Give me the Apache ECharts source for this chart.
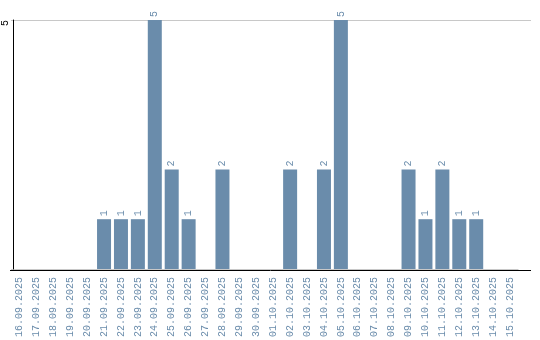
<!DOCTYPE html>
<html><head><meta charset="utf-8">
<script src="https://cdn.jsdelivr.net/npm/echarts@6/dist/echarts.min.js"></script>
<style>html,body{margin:0;padding:0;background:#fff}#c{width:540px;height:340px}</style>
</head><body><div id="c"></div>
<script>
const categories = ["16.09.2025","17.09.2025","18.09.2025","19.09.2025","20.09.2025","21.09.2025","22.09.2025","23.09.2025","24.09.2025","25.09.2025","26.09.2025","27.09.2025","28.09.2025","29.09.2025","30.09.2025","01.10.2025","02.10.2025","03.10.2025","04.10.2025","05.10.2025","06.10.2025","07.10.2025","08.10.2025","09.10.2025","10.10.2025","11.10.2025","12.10.2025","13.10.2025","14.10.2025","15.10.2025"];
const values = [0,0,0,0,0,1,1,1,5,2,1,0,2,0,0,0,2,0,2,5,0,0,0,2,1,2,1,1,0,0];
const yMax = 5;
const barColor = '#6a8cab';
const chart = echarts.init(document.getElementById('c'));
chart.setOption({
  animation:false,
  grid:{left:8.5,top:20,width:510,bottom:70,containLabel:false},
  graphic:[
    {type:'line',shape:{x1:518,y1:20.5,x2:531,y2:20.5},style:{stroke:'#c8c8c8',lineWidth:1}},
    {type:'line',shape:{x1:10,y1:270.5,x2:531,y2:270.5},style:{stroke:'#000',lineWidth:1}}
  ],
  xAxis:{type:'category',data:categories,
    axisLine:{show:false},
    axisTick:{show:false},
    axisLabel:{rotate:90,interval:0,color:barColor,fontFamily:'Liberation Mono',fontSize:10,margin:8}},
  yAxis:{type:'value',min:0,max:yMax,interval:5,offset:-2,
    axisLine:{show:true,lineStyle:{color:'#000',width:1}},
    axisTick:{show:false},
    splitLine:{lineStyle:{color:'#c8c8c8'}},
    axisLabel:{showMinLabel:false,rotate:90,align:'right',verticalAlign:'bottom',color:'#000',fontFamily:'Liberation Mono',fontSize:10,margin:3}},
  series:[{type:'bar',data:values.map(v=>v===0?null:v),barWidth:14,
    itemStyle:{color:barColor},
    label:{show:true,position:'top',rotate:90,align:'left',verticalAlign:'middle',distance:3,
      color:barColor,fontFamily:'Liberation Mono',fontSize:10}}]
});
</script></body></html>
